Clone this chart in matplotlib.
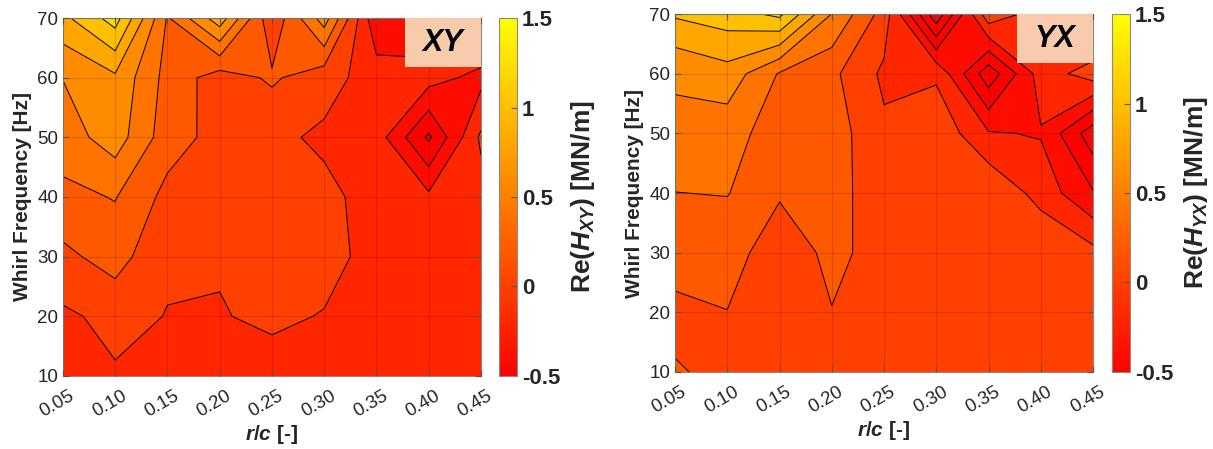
import numpy as np
import matplotlib
matplotlib.use("Agg")
import matplotlib.pyplot as plt
from matplotlib import colors as mcolors
from matplotlib.cm import ScalarMappable
from matplotlib.patches import Rectangle
from matplotlib.transforms import ScaledTranslation

plt.rcParams['font.family'] = ['Liberation Sans', 'DejaVu Sans']
plt.rcParams['mathtext.fontset'] = 'custom'
plt.rcParams['mathtext.it'] = 'Liberation Sans:italic:bold'
plt.rcParams['mathtext.rm'] = 'Liberation Sans:bold'
plt.rcParams['mathtext.bf'] = 'Liberation Sans:bold'
plt.rcParams['contour.negative_linestyle'] = 'solid'

# grid of the measurements
rc = np.array([0.05, 0.10, 0.15, 0.20, 0.25, 0.30, 0.35, 0.40, 0.45])
freq = np.array([10, 20, 30, 40, 50, 60, 70])

# Re(H_XY) [MN/m], one row per whirl frequency
h_xy = np.array([
    [-0.10, -0.02, -0.06, -0.08, -0.071, -0.08, -0.10, -0.12, -0.10],
    [-0.035, 0.055, -0.006, -0.01, 0.032, -0.009, -0.08, -0.12, -0.12],
    [0.151, 0.285, 0.026, 0.0144, 0.07, 0.06, -0.06, -0.10, -0.12],
    [0.348, 0.41, 0.14, 0.12, 0.06, 0.049, -0.0735, -0.157, -0.082],
    [0.50, 0.70, 0.29, 0.13, 0.0425, -0.034, -0.103, -0.635, 0.035],
    [0.605, 0.763, 0.33, 0.10, 0.23, 0.076, -0.089, -0.12, -0.262],
    [0.95, 1.29, 0.38, 0.92, 0.04, 0.70, -0.38, -0.36, 0.10],
])

# Re(H_YX) [MN/m], one row per whirl frequency
h_yx = np.array([
    [0.23, 0.12, 0.10, 0.12, 0.12, 0.10, 0.12, 0.12, 0.10],
    [0.10, 0.198, 0.12, 0.197, 0.14, 0.10, 0.12, 0.12, 0.10],
    [0.38, 0.243, 0.143, 0.224, 0.164, 0.10, 0.12, 0.191, 0.058],
    [0.397, 0.41, 0.21, 0.30, 0.05, 0.10, 0.183, -0.078, -0.386],
    [0.563, 0.482, 0.30, 0.30, 0.037, 0.15, -0.183, -0.215, -0.72],
    [0.62, 0.723, 0.383, 0.246, -0.04, -0.035, -0.73, -0.108, 0.10],
    [1.028, 1.108, 1.25, 0.596, 0.116, -0.95, 0.14, -0.10, -0.376],
])

cbar_ticks = [-0.5, 0, 0.5, 1, 1.5]
cbar_labels = ['-0.5', '0', '0.5', '1', '1.5']

levels = np.round(np.arange(-1.0, 1.61, 0.2), 2)
norm = mcolors.Normalize(-0.5, 1.5)
cmap = plt.get_cmap('autumn')
# matlab style: each band gets the colour of its lower level
fill = [cmap(float(np.clip(norm(l), 0, 1))) for l in levels[:-1]]

fig = plt.figure(figsize=(12.13, 4.49), dpi=100)

panels = [
    (h_xy, 'XY', r'Re($H_{XY}$) [MN/m]',
     [0.0519, 0.1626, 0.3446, 0.7973], [0.4116, 0.1626, 0.0148, 0.7973]),
    (h_yx, 'YX', r'Re($H_{YX}$) [MN/m]',
     [0.5565, 0.1715, 0.3446, 0.7973], [0.9170, 0.1715, 0.0146, 0.7973]),
]

grey = '#262626'
for z, tag, clabel, rect, cbrect in panels:
    ax = fig.add_axes(rect)
    ax.contourf(rc, freq, z, levels=levels, colors=fill)
    ax.contour(rc, freq, z, levels=levels, colors='k', linewidths=0.7,
               linestyles='solid')
    ax.set_xlim(0.05, 0.45)
    ax.set_ylim(10, 70)
    ax.set_xticks(rc)
    ax.set_xticklabels(['%.2f' % v for v in rc], rotation=30,
                       ha='right', rotation_mode='anchor')
    ax.set_yticks(freq)
    ax.tick_params(direction='in', length=4, top=True, right=True,
                   labelsize=13.5, labelcolor=grey, color='#555555')
    ax.tick_params(axis='x', pad=8)
    off = ScaledTranslation(6 / 100, 0, fig.dpi_scale_trans)
    for lbl in ax.get_xticklabels():
        lbl.set_transform(lbl.get_transform() + off)
    ax.grid(True, color='k', alpha=0.15, linewidth=0.8)
    ax.set_axisbelow(False)
    for sp in ax.spines.values():
        sp.set_color('#8a8a8a')
        sp.set_linewidth(0.8)
    ax.set_xlabel(r'$r$/$c$ [-]', fontsize=15, fontweight='bold', color=grey,
                  labelpad=2)
    ax.set_ylabel('Whirl Frequency [Hz]', fontsize=15, fontweight='bold',
                  color=grey, labelpad=4)

    ax.add_patch(Rectangle((0.818, 0.863), 0.182, 0.137, transform=ax.transAxes,
                           facecolor='#F8CBAD', edgecolor='none', zorder=5))
    ax.text(0.909, 0.931, tag, transform=ax.transAxes, ha='center',
            va='center', fontsize=22, fontweight='bold', fontstyle='italic',
            color='k', zorder=6)

    cax = fig.add_axes(cbrect)
    sm = ScalarMappable(norm=norm, cmap=cmap)
    cb = fig.colorbar(sm, cax=cax, ticks=cbar_ticks)
    cb.ax.set_yticklabels(cbar_labels)
    cb.ax.tick_params(direction='in', length=4, labelsize=16, labelcolor=grey,
                      color='#555555')
    for lbl in cb.ax.get_yticklabels():
        lbl.set_fontweight('bold')
    cb.outline.set_edgecolor('#8a8a8a')
    cb.outline.set_linewidth(0.8)
    cb.set_label(clabel, fontsize=19, fontweight='bold', color=grey,
                 labelpad=6)

fig.savefig('out.png', dpi=100)
